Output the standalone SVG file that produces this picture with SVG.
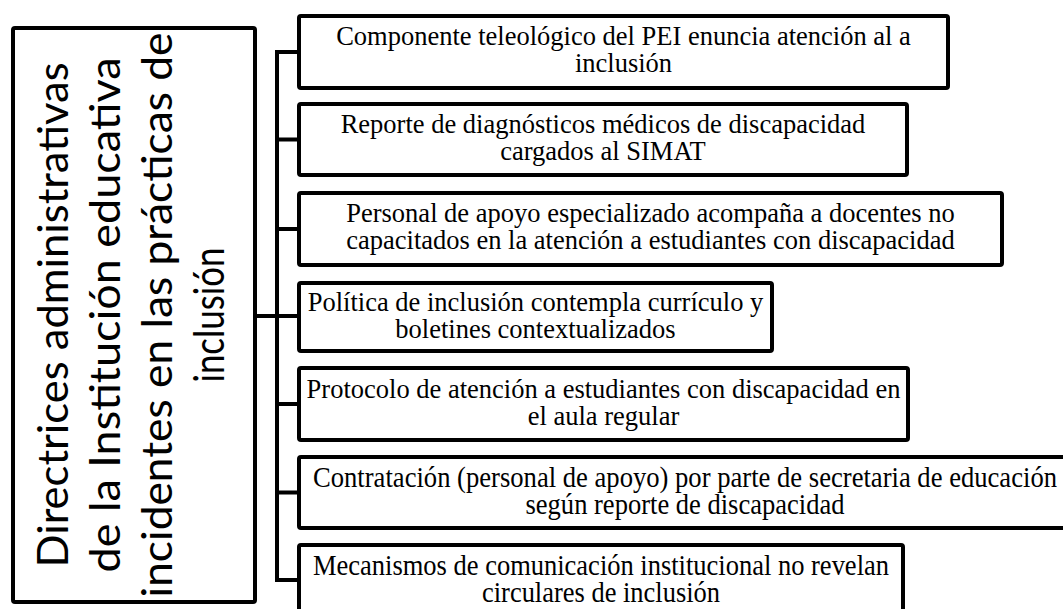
<svg xmlns="http://www.w3.org/2000/svg" width="1063" height="609" viewBox="0 0 1063 609">
<style>
.box{fill:#fff;stroke:#000;stroke-width:4;stroke-linejoin:round}
.conn{fill:none;stroke:#000;stroke-width:4;stroke-linejoin:miter}
.t{font-family:"Liberation Serif","Times New Roman",serif;font-size:26.5px;fill:#000;text-anchor:middle}
.tc{font-family:"Liberation Serif","Times New Roman",serif;font-size:28.5px;fill:#000;text-anchor:middle}
.root{font-family:Lato,"Open Sans","Liberation Sans",sans-serif;font-size:43px;fill:#000;text-anchor:middle}
</style>
<rect width="1063" height="609" fill="#fff"/>
<g id="connectors">
<path class="conn" d="M255 316 H299"/>
<path class="conn" d="M299 52 H277 V580 H299"/>
<path class="conn" d="M277 139.5 H299 M277 229 H299 M277 404 H299 M277 492.5 H299"/>
</g>
<g id="root">
<rect class="box" x="13" y="28" width="242" height="574" rx="2"/>
<text class="root" transform="translate(68 315) rotate(-90)" textLength="505" lengthAdjust="spacingAndGlyphs">Directrices administrativas</text>
<text class="root" transform="translate(120 315) rotate(-90)" textLength="515" lengthAdjust="spacingAndGlyphs">de la Institución educativa</text>
<text class="root" transform="translate(172 315) rotate(-90)" textLength="565" lengthAdjust="spacingAndGlyphs">incidentes en las prácticas de</text>
<text class="root" transform="translate(224 315) rotate(-90)" textLength="135" lengthAdjust="spacingAndGlyphs">inclusión</text>
</g>
<g id="n1">
<rect class="box" x="299" y="16" width="649" height="72" rx="2"/>
<text class="t" x="623.5" y="45">Componente teleológico del PEI enuncia atención al a</text>
<text class="t" x="623.5" y="72">inclusión</text>
</g>
<g id="n2">
<rect class="box" x="299" y="104" width="608" height="71" rx="2"/>
<text class="t" x="603" y="133">Reporte de diagnósticos médicos de discapacidad</text>
<text class="t" x="603" y="160">cargados al SIMAT</text>
</g>
<g id="n3">
<rect class="box" x="299" y="193" width="703" height="72" rx="2"/>
<text class="t" x="650.5" y="222">Personal de apoyo especializado acompaña a docentes no</text>
<text class="t" x="650.5" y="249">capacitados en la atención a estudiantes con discapacidad</text>
</g>
<g id="n4">
<rect class="box" x="299" y="283" width="473" height="68" rx="2"/>
<text class="t" x="535.5" y="311">Política de inclusión contempla currículo y</text>
<text class="t" x="535.5" y="338">boletines contextualizados</text>
</g>
<g id="n5">
<rect class="box" x="299" y="368" width="609" height="72" rx="2"/>
<text class="t" x="603.5" y="398">Protocolo de atención a estudiantes con discapacidad en</text>
<text class="t" x="603.5" y="425">el aula regular</text>
</g>
<g id="n6">
<rect class="box" x="299" y="457" width="772" height="71" rx="2"/>
<text class="tc" x="685" y="487" textLength="744" lengthAdjust="spacingAndGlyphs">Contratación (personal de apoyo) por parte de secretaria de educación</text>
<text class="tc" x="685" y="514" textLength="319" lengthAdjust="spacingAndGlyphs">según reporte de discapacidad</text>
</g>
<g id="n7">
<rect class="box" x="299" y="545" width="604" height="71" rx="2"/>
<text class="tc" x="601" y="575" textLength="576" lengthAdjust="spacingAndGlyphs">Mecanismos de comunicación institucional no revelan</text>
<text class="tc" x="601" y="602" textLength="238" lengthAdjust="spacingAndGlyphs">circulares de inclusión</text>
</g>
</svg>
